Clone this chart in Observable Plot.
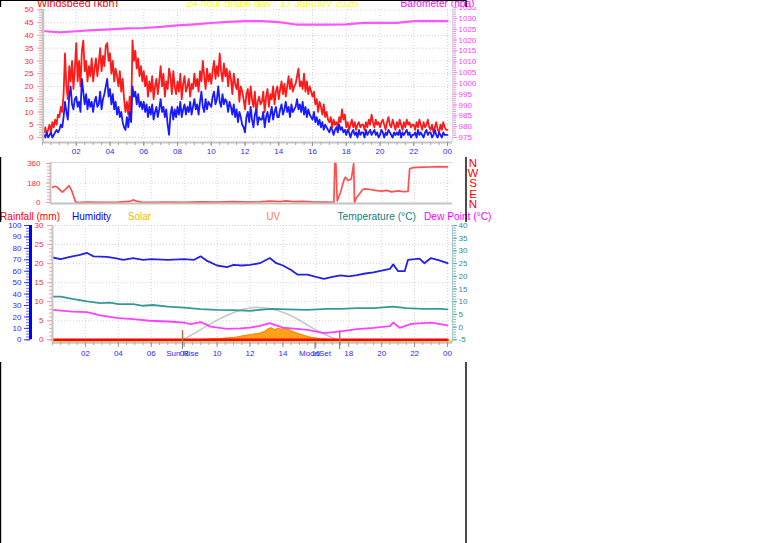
<!DOCTYPE html>
<html><head><meta charset="utf-8">
<script src="https://cdn.jsdelivr.net/npm/d3@7"></script>
<script src="https://cdn.jsdelivr.net/npm/@observablehq/plot@0.6"></script>
<style>
html,body{margin:0;padding:0;background:#fff;overflow:hidden}
#root{position:relative;width:761px;height:543px;background:#fff;overflow:hidden}
</style></head><body><div id="root"></div>
<script>
// ---------------- DATA ----------------
const chartTitle = "24 hour graph day : 17 January 2026";
const topLabels = ["Windspeed (kph)", chartTitle, "Barometer (hpa)"];
const legendLabels = ["Rainfall (mm)", "Humidity", "Solar", "UV", "Temperature (°C)", "Dew Point (°C)"];
const compassLabels = ["N", "W", "S", "E", "N"];

const hourTicks = [2, 4, 6, 8, 10, 12, 14, 16, 18, 20, 22, 24];
const hourTickLabels = ["02", "04", "06", "08", "10", "12", "14", "16", "18", "20", "22", "00"];
const windTicks = [0, 5, 10, 15, 20, 25, 30, 35, 40, 45, 50];
const baroTicks = [975, 980, 985, 990, 995, 1000, 1005, 1010, 1015, 1020, 1025, 1030, 1035];
const dirTicks = [0, 180, 360];
const rainTicks = [0, 5, 10, 15, 20, 25, 30];
const humTicks = [0, 10, 20, 30, 40, 50, 60, 70, 80, 90, 100];
const tempTicks = [-5, 0, 5, 10, 15, 20, 25, 30, 35, 40];

// wind samples every 5 minutes, 00:00 .. 24:00 (one row per hour)
const windStepMinutes = 5;
const windGust = [
  5,2,4,1,3,5,2,6,4,7,5,9,
  8,12,10,17,33,20,15,28,22,30,19,27,
  37,22,30,20,34,38,26,30,22,28,24,31,
  22,27,31,24,29,35,26,32,28,36,37,30,
  33,25,30,22,27,24,20,26,18,23,15,10,
  14,9,16,8,38,30,34,27,31,24,28,22,
  26,20,24,16,22,18,24,15,20,23,17,22,
  28,20,25,16,22,19,27,24,17,26,20,17,
  22,18,25,15,21,24,18,20,23,16,21,19,
  25,20,23,18,26,22,30,24,19,27,22,25,
  21,26,30,23,28,24,33,26,22,29,24,27,
  20,26,23,17,25,21,19,23,14,20,18,15,
  11,17,19,13,20,15,12,18,9,14,16,13,
  14,18,10,16,19,12,17,15,20,13,18,20,
  15,19,22,17,21,16,20,24,19,23,18,20,
  21,24,27,20,22,19,25,18,22,17,20,18,
  16,18,13,15,10,14,12,9,13,8,10,7,
  6,8,4,7,5,6,4,8,6,11,7,9,
  4,6,3,5,7,4,6,3,5,6,4,5,
  5,3,6,4,7,5,9,6,4,7,5,6,
  4,6,7,5,3,6,8,5,4,7,5,3,
  6,4,7,5,3,6,4,7,5,6,4,5,
  5,3,6,4,7,5,3,6,4,5,7,4,
  3,5,2,4,6,3,2,5,3,6,4,3,
  3];
const windAvg = [
  0,1,0,2,0,1,2,0,1,2,3,2,
  3,5,4,8,14,10,7,16,20,13,11,15,
  16,12,14,10,23,18,13,17,11,15,12,14,
  10,14,16,12,13,18,11,15,17,20,23,16,
  19,13,17,11,14,9,12,8,10,6,4,3,
  8,4,10,6,20,16,18,13,17,12,14,11,
  14,10,13,8,12,9,13,7,10,12,8,11,
  15,10,12,8,11,5,1,9,12,7,11,8,
  12,9,14,8,11,13,9,12,10,14,9,12,
  15,11,13,9,14,18,12,10,15,11,14,13,
  12,16,18,13,15,20,14,12,17,13,15,14,
  10,14,12,9,13,8,11,6,10,8,5,4,
  2,8,10,6,12,7,4,9,11,5,8,7,
  7,10,4,8,10,6,9,12,7,10,12,8,
  8,11,13,9,11,14,10,12,8,13,10,11,
  12,15,11,13,10,14,9,12,8,11,9,8,
  7,10,6,8,5,7,4,6,3,5,4,3,
  2,4,3,1,3,4,2,5,3,4,2,3,
  1,3,2,0,2,3,1,2,0,3,1,2,
  2,0,3,1,2,3,1,2,3,1,2,0,
  1,3,2,0,2,1,3,2,1,0,2,1,
  2,1,3,0,2,1,2,3,1,2,0,1,
  1,2,0,3,1,2,1,0,2,3,1,2,
  2,0,1,3,1,0,2,1,0,2,1,1,
  1];

const baroHours = [0,1,2,3,4,5,6,7,8,9,10,11,12,13,14,15,16,17,18,19,20,21,22,23,24];
const baro = [1024.2,1023.6,1024.1,1024.6,1025.0,1025.4,1025.6,1026.1,1026.8,1027.3,1027.9,1028.4,
  1028.75,1028.75,1028.3,1027.2,1027.2,1027.2,1027.3,1028.0,1028.0,1028.0,1028.75,1028.75,1028.75];

const dirHours = [0,0.15,0.3,0.5,0.6,0.8,1.0,1.1,1.2,1.4,1.6,2,3,4,4.7,4.9,5.1,5.4,6,7,8,9,10,11,12,12.6,13.2,13.8,14.2,14.6,15.2,15.8,16.5,17.1,
  17.15,17.22,17.3,17.5,17.7,17.8,17.96,18.16,18.3,18.35,18.45,18.85,19.0,19.3,19.6,20.0,20.3,20.6,21.0,21.3,21.6,21.7,21.9,22.5,23,23.5,24];
const dir = [140,150,140,110,95,123,155,130,95,5,0,3,2,4,10,24,12,3,2,3,2,5,3,8,4,6,12,8,15,8,10,5,3,2,
  360,360,15,95,203,233,203,218,360,0,40,120,126,120,112,105,112,98,108,100,102,311,322,326,328,332,328];

const humHours = [0,0.5,1.2,1.6,2.1,2.5,3.3,3.8,4.3,4.9,5.5,6,7,8,8.6,9.0,9.4,10.0,10.6,11,11.5,12,12.6,13.2,13.6,14.0,14.5,14.9,15.5,16.0,16.5,17.0,17.5,18.0,18.5,19.0,19.5,20.0,20.5,20.7,21.0,21.4,21.6,22.0,22.3,22.6,23.0,23.5,24];
const humidity = [72,70.5,73,74,76,73,72.5,71.5,70,71.5,70,70.5,70,70.5,70,73,69,65,63.5,65.5,65,65.5,67,71.5,67,65,61,57,57,55,53.3,55,56.3,55.5,56.5,58,59,60.5,62,66,60,60,70,70.5,71,67,71.5,69.5,67];

const tempHours = [0,0.5,1.2,2.1,2.9,3.5,4,4.9,5.5,6.1,7,8,9,10,11,12,13.3,14.3,15.5,16.7,17.5,18.5,19.5,20.7,21.5,22.5,23.5,24];
const temperature = [12,12,11.1,10.1,9.4,9.6,9.05,9.05,8.4,8.7,8.1,7.7,7.1,6.8,6.7,6.4,7.2,7,6.8,7.2,7.2,7.5,7.5,8.1,7.5,7.2,7.2,7];

const dewHours = [0,1.2,2.1,2.9,4,4.9,5.9,7,8,8.4,9,9.6,10.6,11.4,12,12.6,13.2,14,15.5,16.5,17.5,18.5,19.5,20.5,20.7,21.1,21.8,23,24];
const dewPoint = [6.8,6.1,5.9,4.6,3.5,3.1,2.5,2.2,1.8,1.2,2.0,0.2,-0.7,-0.5,-0.2,0.5,1.6,-0.2,-1.1,-2.4,-1.7,-0.8,-0.3,0.4,1.8,-0.3,1.3,1.8,0.7];

const solarHours = [7.9,9.0,9.4,9.8,10.3,10.8,11.2,11.6,12.1,12.6,12.9,13.1,13.3,13.5,13.7,13.9,14.1,14.4,14.7,15.0,15.3,15.6,15.9,16.3,16.8,17.4];
const solar = [0,2,5,8,12,18,23,35,46,58,72,95,105,88,98,92,105,85,66,52,38,25,17,8,3,0];
const solarMaxHours = [7.9,8.6,9.1,9.6,10.1,10.6,11.1,11.5,12.0,12.4,12.9,13.5,14.1,14.7,15.2,15.7,16.2,16.7,17.0,17.3];
const solarMax = [0,53,98,140,180,213,245,265,280,285,280,265,235,198,155,110,72,38,18,0];

const rainHours = [0, 24];
const rainfall = [0, 0];

const sunrise = 7.9, sunset = 17.45, moonset = 15.95;
const eventHours = [sunrise, moonset];
const eventLabels = ["Sun Rise", "MoonSet"];

// ---------------- BUILD ----------------
const FONT = "'Liberation Sans', Arial, sans-serif";
const root = document.getElementById("root");
function place(node, top, z) {
  node.style.position = "absolute"; node.style.left = "0px"; node.style.top = top + "px";
  node.style.zIndex = z; root.appendChild(node); return node;
}
const dotted = {stroke: "#d4d4d4", strokeDasharray: "1,2"};
const windRows = windGust.map((g, i) => ({t: i * windStepMinutes / 60, gust: g, avg: windAvg[i]}));
const baroRows = baro.map((b, i) => ({t: baroHours[i], b}));
const dirRows = dir.map((d, i) => ({t: dirHours[i], d}));
const humRows = humidity.map((h, i) => ({t: humHours[i], v: h}));
const tempRows = temperature.map((v, i) => ({t: tempHours[i], v}));
const dewRows = dewPoint.map((v, i) => ({t: dewHours[i], v}));
const solarRows = solar.map((v, i) => ({t: solarHours[i], v}));
const solarMaxRows = solarMax.map((v, i) => ({t: solarMaxHours[i], v}));
const rainRows = rainfall.map((v, i) => ({t: rainHours[i], v}));
const labelOf = d => hourTickLabels[hourTicks.indexOf(d)];

// barometer mapped onto windspeed scale
const baroK = 0.848;
const toW = b => (b - 975) * baroK;
const fromW = w => Math.round(w / baroK + 975);

// ---- under layer: titles, legend, borders
const under = d3.create("svg").attr("width", 761).attr("height", 543).style("font-family", FONT);
const topLayout = [{x: 37, y: 7.3, w: 81, c: "#ff0000"}, {x: 186, y: 7.3, w: 172, c: "#ffff00"}, {x: 400.5, y: 7.3, w: 74, c: "#ff00ff"}];
topLabels.forEach((s, i) => under.append("text").attr("x", topLayout[i].x).attr("y", topLayout[i].y)
  .attr("fill", topLayout[i].c).attr("font-size", 11).attr("textLength", topLayout[i].w)
  .attr("lengthAdjust", "spacingAndGlyphs").text(s));
const legLayout = [{x: 0, w: 60, c: "#ff0000"}, {x: 72, w: 39, c: "#0000ff"}, {x: 128, w: 23, c: "#f5b800"},
  {x: 266.5, w: 13.5, c: "#ff7f40"}, {x: 337.5, w: 78.5, c: "#138080"}, {x: 424, w: 67.5, c: "#ff00ff"}];
legendLabels.forEach((s, i) => under.append("text").attr("x", legLayout[i].x).attr("y", 220)
  .attr("fill", legLayout[i].c).attr("font-size", 11.5).attr("textLength", legLayout[i].w)
  .attr("lengthAdjust", "spacingAndGlyphs").text(s));
under.append("rect").attr("x", 0).attr("y", 0).attr("width", 466).attr("height", 1).attr("fill", "#000");
under.append("rect").attr("x", 0).attr("y", 0).attr("width", 1.2).attr("height", 543).attr("fill", "#000");
under.append("rect").attr("x", 465.3).attr("y", 0).attr("width", 1.4).attr("height", 543).attr("fill", "#000");
place(under.node(), 0, 1);

// ---- Panel 1: windspeed + barometer
const p1 = Plot.plot({
  width: 480, height: 150, marginLeft: 42, marginRight: 28, marginTop: 2, marginBottom: 15,
  x: {domain: [0, 24], range: [42, 447]},
  y: {domain: [0, 50], range: [130, 2.4]},
  style: {background: "white", overflow: "hidden", fontFamily: FONT, fontSize: "8px"},
  marks: [
    Plot.ruleY(windTicks, dotted),
    Plot.ruleX(hourTicks, dotted),
    Plot.line(baroRows, {x: "t", y: d => toW(d.b), stroke: "#ff55ff", strokeWidth: 2.2}),
    Plot.line(windRows, {x: "t", y: "gust", stroke: "#ff1a1a", strokeWidth: 1.8}),
    Plot.line(windRows, {x: "t", y: "avg", stroke: "#1a1aff", strokeWidth: 1.8}),
    Plot.ruleX([0], {stroke: "#c4c4c4", strokeWidth: 2.5, dx: 0.5}),
    Plot.ruleX([24], {stroke: "#d8d8d8", strokeWidth: 1, dx: 5}),
    Plot.ruleY([0], {stroke: "#c4c4c4", strokeWidth: 2, dy: 5}),
    Plot.axisY(d3.range(0, 50.1, 1), {anchor: "left", tickSize: 3, stroke: "#ff9a9a", fill: "none", label: null}),
    Plot.axisY(windTicks, {anchor: "left", tickSize: 5, tickPadding: 4, stroke: "#ff9a9a", fill: "#ff2a2a", label: null}),
    Plot.axisY(d3.range(975, 1035.1, 1).map(toW), {anchor: "right", tickSize: 3, stroke: "#ff80ff", fill: "none", label: null}),
    Plot.axisY(baroTicks.map(toW), {anchor: "right", tickSize: 4, tickPadding: 2, stroke: "#ff80ff", fill: "#ff40ff", tickFormat: w => String(fromW(w)), label: null}),
    Plot.axisX(d3.range(0, 24.01, 0.5), {anchor: "bottom", tickSize: 3, stroke: "#aaa", fill: "none", label: null}),
    Plot.axisX(hourTicks, {anchor: "bottom", tickSize: 4, tickPadding: 2, stroke: "#999", fill: "#2a2aff", tickFormat: labelOf, label: null})
  ]
});
place(p1, 7, 2);

// ---- Panel 2: wind direction
const p2 = Plot.plot({
  width: 480, height: 52, marginLeft: 50, marginRight: 28, marginTop: 7, marginBottom: 4,
  x: {domain: [0, 24], range: [52, 447], axis: null},
  y: {domain: [0, 360], range: [47, 8]},
  style: {background: "transparent", overflow: "visible", fontFamily: FONT, fontSize: "8px"},
  marks: [
    Plot.ruleY([180], dotted),
    Plot.ruleX(hourTicks, dotted),
    Plot.ruleY([360], {stroke: "#dcdcdc", dy: -1}),
    Plot.line(dirRows, {x: "t", y: "d", stroke: "#ff5050", strokeWidth: 1.7}),
    Plot.ruleX([0], {stroke: "#c4c4c4", strokeWidth: 2, dx: -2}),
    Plot.ruleY([0], {stroke: "#c4c4c4", strokeWidth: 2, dy: 1}),
    Plot.axisY(d3.range(0, 361, 30), {anchor: "left", tickSize: 3, stroke: "#ff9a9a", fill: "none", label: null}),
    Plot.axisY(dirTicks, {anchor: "left", tickSize: 4, tickPadding: 6, stroke: "#ff9a9a", fill: "#ff3030", label: null})
  ]
});
place(p2, 155, 3);

// ---- Panel 3: rain / humidity / solar / temperature / dew point
const rY = r => r * 100 / 30;
const tY = t => (t + 5) * 100 / 45;
const sY = s => s / 10;
const p3 = Plot.plot({
  width: 480, height: 140, marginLeft: 52, marginRight: 28, marginTop: 3, marginBottom: 20,
  x: {domain: [0, 24], range: [52, 447]},
  y: {domain: [0, 100], range: [117.3, 3]},
  style: {background: "white", overflow: "visible", fontFamily: FONT, fontSize: "8px"},
  marks: [
    Plot.ruleY(rainTicks.map(rY), dotted),
    Plot.ruleX(hourTicks, dotted),
    Plot.ruleX([24], {stroke: "#a9cccc", strokeWidth: 1, dx: 5}),
    Plot.line(solarMaxRows, {x: "t", y: d => sY(d.v), stroke: "#c6c6c6", strokeWidth: 1.6, curve: "basis"}),
    Plot.areaY(solarRows, {x: "t", y: d => sY(d.v), fill: "#ffa21a"}),
    Plot.line(solarRows, {x: "t", y: d => sY(d.v), stroke: "#ff8400", strokeWidth: 1}),
    Plot.ruleY([0], {stroke: "#ffd800", strokeWidth: 3, dy: 2}),
    Plot.line(rainRows, {x: "t", y: d => rY(d.v), stroke: "#ff0000", strokeWidth: 2.5}),
    Plot.ruleX([sunrise, sunset], {y1: -5, y2: 8, stroke: "#a57a4a", strokeWidth: 1.5}),
    Plot.line(tempRows, {x: "t", y: d => tY(d.v), stroke: "#339a98", strokeWidth: 1.8}),
    Plot.line(dewRows, {x: "t", y: d => tY(d.v), stroke: "#ff40ff", strokeWidth: 1.8}),
    Plot.line(humRows, {x: "t", y: "v", stroke: "#2222e6", strokeWidth: 1.8}),
    Plot.ruleX([0], {stroke: "#c4c4c4", strokeWidth: 2}),
    Plot.ruleY([0], {stroke: "#c8c8c8", strokeWidth: 2, dy: 3}),
    // rainfall axis
    Plot.axisY(d3.range(0, 30.1, 1).map(rY), {anchor: "left", tickSize: 3, stroke: "#ff9a9a", fill: "none", label: null}),
    Plot.axisY(rainTicks.map(rY), {anchor: "left", tickSize: 5, tickPadding: 4, stroke: "#ff9a9a", fill: "#ff2a2a", tickFormat: y => String(Math.round(y * 30 / 100)), label: null}),
    // humidity axis
    Plot.axisY(d3.range(0, 100.1, 2.5), {anchor: "left", dx: -22, tickSize: 4, stroke: "#6a6aff", fill: "none", label: null}),
    Plot.axisY(humTicks, {anchor: "left", dx: -22, tickSize: 6, tickPadding: 3, stroke: "#3a3aff", fill: "#2a2aff", label: null}),
    Plot.ruleX([0], {y1: 0, y2: 100, dx: -22, stroke: "#0000ff", strokeWidth: 3}),
    // temperature axis
    Plot.axisY(d3.range(-5, 40.1, 1).map(tY), {anchor: "right", tickSize: 3, stroke: "#7fbcbc", fill: "none", label: null}),
    Plot.axisY(tempTicks.map(tY), {anchor: "right", tickSize: 4, tickPadding: 2, stroke: "#5aa8a8", fill: "#2a8c8c", tickFormat: y => String(Math.round(y * 45 / 100 - 5)), label: null}),
    // time axis
    Plot.axisX(d3.range(0, 24.01, 0.5), {anchor: "bottom", tickSize: 3, stroke: "#aaa", fill: "none", label: null}),
    Plot.axisX(hourTicks, {anchor: "bottom", tickSize: 5, tickPadding: 3, stroke: "#999", fill: "#2a2aff", tickFormat: labelOf, label: null}),
    Plot.axisX([sunrise, moonset, sunset], {anchor: "bottom", tickSize: 7, stroke: "#777", fill: "none", label: null}),
    Plot.axisX(eventHours, {anchor: "bottom", tickSize: 0, tickPadding: 8, fill: "#2a2aff", tickFormat: d => eventLabels[eventHours.indexOf(d)], label: null})
  ]
});
place(p3, 222, 2);

// ---- over layer: compass letters
const over = d3.create("svg").attr("width", 761).attr("height", 543).style("font-family", FONT).style("pointer-events", "none");
compassLabels.forEach((s, i) => over.append("text").attr("x", 473).attr("y", 166.7 + i * 10.3)
  .attr("text-anchor", "middle").attr("fill", "#ff0000").attr("font-size", 11.5).text(s));
place(over.node(), 0, 4);
</script></body></html>
